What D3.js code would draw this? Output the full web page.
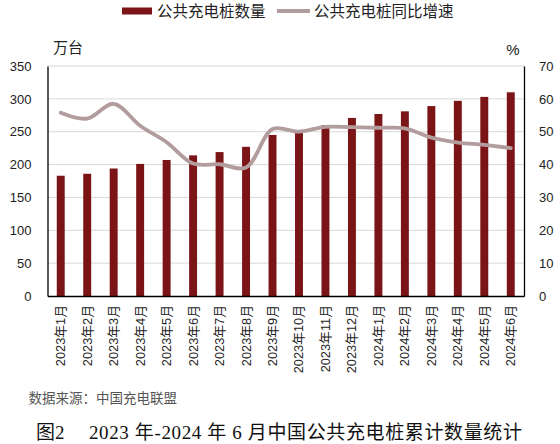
<!DOCTYPE html>
<html>
<head>
<meta charset="utf-8">
<script src="https://cdn.jsdelivr.net/npm/d3@7"></script>
<style>
body{margin:0;background:#fff;}
svg text{font-family:"Liberation Sans",Arial,"Noto Sans CJK SC",sans-serif;}
.serif{font-family:"Liberation Serif","DejaVu Serif","Noto Sans CJK SC",serif !important;}
</style>
</head>
<body>
<svg id="chart"></svg>
<script>
var months = ["2023年1月","2023年2月","2023年3月","2023年4月","2023年5月","2023年6月",
  "2023年7月","2023年8月","2023年9月","2023年10月","2023年11月","2023年12月",
  "2024年1月","2024年2月","2024年3月","2024年4月","2024年5月","2024年6月"]
var pileCount = [183,186,194,201,207,214,219,227,245,251,260,271,277,281,289,297,303,310]
var yoyGrowth = [55.8,54.0,58.5,51.8,46.8,40.3,40.1,39.1,50.8,50.0,51.5,51.4,51.2,51.0,48.2,46.7,46.0,45.0]
var leftTicks = [0,50,100,150,200,250,300,350]
var rightTicks = [0,10,20,30,40,50,60,70]

var screen = {width:560, height:444}
var margin = {top:66, left:47.5, right:36, bottom:148}
var w = screen.width - margin.left - margin.right
var h = screen.height - margin.top - margin.bottom

var barColor = "#7b1416"
var lineColor = "#b39c9e"

var svg = d3.select("#chart")
  .attr("width", screen.width)
  .attr("height", screen.height)

var chart = svg.append("g")
  .attr("transform", "translate(" + margin.left + "," + margin.top + ")")

var xScale = d3.scaleBand()
  .domain(months)
  .range([0, w])
  .paddingInner(0.7)
  .paddingOuter(0.35)

var yScale = d3.scaleLinear().domain([0,350]).range([h,0])
var y2Scale = d3.scaleLinear().domain([0,70]).range([h,0])

// grid
chart.selectAll(".grid")
  .data(leftTicks.slice(1))
  .enter().append("line")
  .attr("class","grid")
  .attr("x1",0).attr("x2",w)
  .attr("y1",function(d){return yScale(d)})
  .attr("y2",function(d){return yScale(d)})
  .attr("stroke","#d9d9d9").attr("stroke-width",1)

// bars
chart.selectAll("rect.bar")
  .data(pileCount)
  .enter().append("rect")
  .attr("class","bar")
  .attr("x",function(d,i){return xScale(months[i])})
  .attr("y",function(d){return yScale(d)})
  .attr("width",xScale.bandwidth())
  .attr("height",function(d){return h - yScale(d)})
  .attr("fill",barColor)

// line
var line = d3.line()
  .x(function(d,i){return xScale(months[i]) + xScale.bandwidth()/2})
  .y(function(d){return y2Scale(d)})
  .curve(d3.curveCatmullRom.alpha(0.5))

chart.append("path")
  .datum(yoyGrowth)
  .attr("d",line)
  .attr("fill","none")
  .attr("stroke",lineColor)
  .attr("stroke-width",3.8)
  .attr("stroke-linecap","round")

// axes
var leftAxis = d3.axisLeft(yScale).tickValues(leftTicks).tickSize(0).tickPadding(16)
var gl = chart.append("g").call(leftAxis)
gl.select(".domain").attr("stroke","#000").attr("stroke-width",1.3)
gl.selectAll("text").style("font-size","13px").attr("fill","#222")

var rightAxis = d3.axisRight(y2Scale).tickValues(rightTicks).tickSize(0).tickPadding(15)
var gr = chart.append("g").attr("transform","translate(" + w + ",0)").call(rightAxis)
gr.select(".domain").attr("stroke","#000").attr("stroke-width",1.3)
gr.selectAll("text").style("font-size","13px").attr("fill","#222")

var bottomAxis = d3.axisBottom(xScale).tickSize(0).tickPadding(0)
var gb = chart.append("g").attr("transform","translate(0," + h + ")").call(bottomAxis)
gb.select(".domain").attr("stroke","#000").attr("stroke-width",1.3)
gb.selectAll("text")
  .style("font-size","12.8px")
  .attr("fill","#222")
  .attr("text-anchor","end")
  .attr("dominant-baseline","central")
  .attr("dy",null)
  .attr("y",0)
  .attr("transform","translate(0,9) rotate(-90)")

// unit labels
svg.append("text").attr("x",68).attr("y",47).attr("text-anchor","middle")
  .attr("dominant-baseline","central").style("font-size","15px").attr("fill","#222").text("万台")
svg.append("text").attr("x",513).attr("y",49).attr("text-anchor","middle")
  .attr("dominant-baseline","central").style("font-size","15px").attr("fill","#222").text("%")

// legend
var legend = svg.append("g")
legend.append("rect").attr("x",122).attr("y",7.5).attr("width",30).attr("height",7).attr("fill",barColor)
legend.append("text").attr("x",157).attr("y",11.5).attr("dominant-baseline","central")
  .style("font-size","15.5px").attr("fill","#222").text("公共充电桩数量")
legend.append("line").attr("x1",277).attr("x2",310).attr("y1",11).attr("y2",11)
  .attr("stroke",lineColor).attr("stroke-width",4)
legend.append("text").attr("x",314).attr("y",11.5).attr("dominant-baseline","central")
  .style("font-size","15.5px").attr("fill","#222").text("公共充电桩同比增速")

// source + caption
svg.append("text").attr("class","serif").attr("x",28.5).attr("y",398)
  .attr("dominant-baseline","central").style("font-size","13.5px").attr("fill","#555")
  .text("数据来源：中国充电联盟")
svg.append("text").attr("class","serif").attr("x",36).attr("y",432)
  .attr("dominant-baseline","central").style("font-size","19px").attr("fill","#111")
  .text("图2")
svg.append("text").attr("class","serif").attr("x",89).attr("y",432)
  .attr("dominant-baseline","central").style("font-size","19px").attr("fill","#111")
  .attr("textLength",433).attr("lengthAdjust","spacing")
  .text("2023 年-2024 年 6 月中国公共充电桩累计数量统计")
</script>
</body>
</html>
